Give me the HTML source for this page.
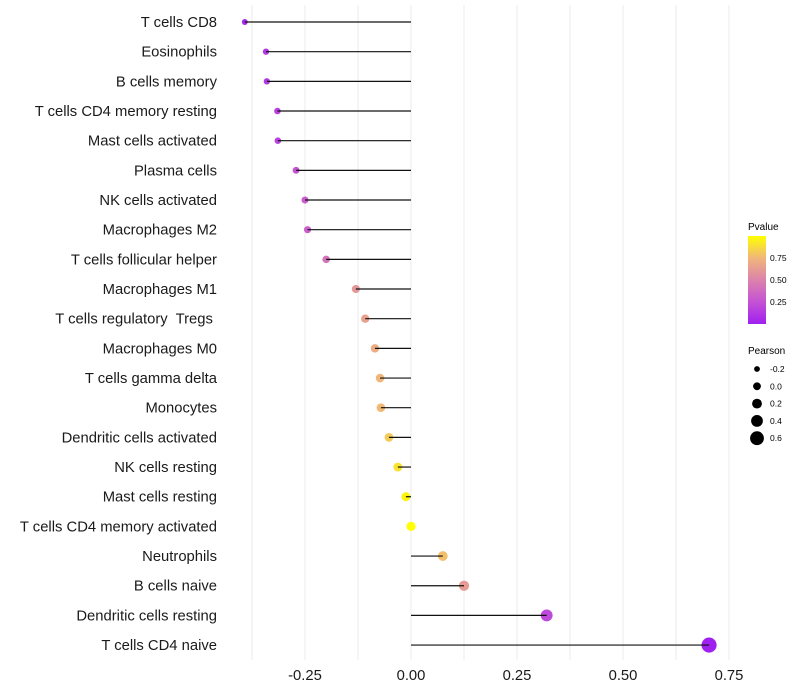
<!DOCTYPE html>
<html><head><meta charset="utf-8"><style>
body{margin:0;background:#fff;}
svg{display:block;font-family:"Liberation Sans",sans-serif;}
text{white-space:pre;}
</style></head><body>
<svg id="chart" width="800" height="700">
<defs><linearGradient id="pg" x1="0" y1="1" x2="0" y2="0">
<stop offset="0" stop-color="#a020f0"/><stop offset="0.25" stop-color="#c452d4"/><stop offset="0.5" stop-color="#dc82ac"/><stop offset="0.75" stop-color="#f0b67a"/><stop offset="1" stop-color="#ffff00"/>
</linearGradient></defs>
<g id="grid"></g><g id="points"></g><g id="marks"></g><g id="labels"></g><g id="xticks"></g>
<g>
<text x="748" y="230" font-size="10" fill="#000">Pvalue</text>
<rect x="748" y="236" width="18" height="88" fill="url(#pg)"/>
<text x="770" y="261" font-size="8.5">0.75</text>
<text x="770" y="283" font-size="8.5">0.50</text>
<text x="770" y="305" font-size="8.5">0.25</text>
</g>
<g id="sizeLegend">
<text x="748" y="354" font-size="10" fill="#000">Pearson</text>
</g>
</svg>
<script>
const categories=["T cells CD8","Eosinophils","B cells memory","T cells CD4 memory resting","Mast cells activated","Plasma cells","NK cells activated","Macrophages M2","T cells follicular helper","Macrophages M1","T cells regulatory  Tregs ","Macrophages M0","T cells gamma delta","Monocytes","Dendritic cells activated","NK cells resting","Mast cells resting","T cells CD4 memory activated","Neutrophils","B cells naive","Dendritic cells resting","T cells CD4 naive"];
const pearson=[-0.392,-0.342,-0.340,-0.315,-0.314,-0.271,-0.25,-0.244,-0.20,-0.13,-0.108,-0.085,-0.073,-0.071,-0.052,-0.031,-0.012,0.0,0.075,0.125,0.32,0.703];
const pvalue=[0.05,0.12,0.13,0.16,0.17,0.25,0.3,0.32,0.42,0.6,0.65,0.7,0.75,0.76,0.82,0.9,0.96,1.0,0.78,0.62,0.2,0.001];
const xTicks=[-0.25,0,0.25,0.5,0.75];
const xTickLabels=["-0.25","0.00","0.25","0.50","0.75"];
const sizeLegendVals=[-0.2,0,0.2,0.4,0.6];
const NS="http://www.w3.org/2000/svg";
const xS=v=>411+v*424;
const yS=i=>22+i*29.67;
const rS=v=>Math.max(1.6,4.6+4.2*v);
const rL=v=>3.9+5*v;
const stops=[[0,[160,32,240]],[0.25,[196,82,212]],[0.5,[220,130,172]],[0.75,[240,182,122]],[1,[255,255,0]]];
function col(p){for(let i=1;i<stops.length;i++){if(p<=stops[i][0]){const a=stops[i-1],b=stops[i],t=(p-a[0])/(b[0]-a[0]);return "rgb("+a[1].map((c,k)=>Math.round(c+(b[1][k]-c)*t)).join(",")+")";}}return "rgb(255,255,0)";}
function mk(t,at,parent){const e=document.createElementNS(NS,t);for(const k in at)e.setAttribute(k,at[k]);parent.appendChild(e);return e;}
const grid=document.getElementById('grid');
for(let v=-0.375;v<=0.76;v+=0.125){const g=mk('line',{x1:xS(v),x2:xS(v),y1:5,y2:660,stroke:'#ebebeb','stroke-width':1},grid);

}
const marks=document.getElementById('marks'),pts=document.getElementById('points'),labels=document.getElementById('labels');
categories.forEach((c,i)=>{const y=yS(i);
const p=mk('circle',{cx:xS(pearson[i]),cy:y,r:rS(pearson[i]),fill:col(pvalue[i])},pts);


const l=mk('line',{x1:xS(0),x2:xS(pearson[i]),y1:y,y2:y,stroke:'#111','stroke-width':1.2},marks);


const t=mk('text',{x:217,y:y+5,'text-anchor':'end','font-size':14.8,fill:'#1a1a1a'},labels);t.textContent=c;

});
const xt=document.getElementById('xticks');
xTicks.forEach((v,i)=>{const t=mk('text',{x:xS(v),y:680,'text-anchor':'middle','font-size':14.8,fill:'#1a1a1a'},xt);t.textContent=xTickLabels[i];

});
const sl=document.getElementById('sizeLegend');
sizeLegendVals.forEach((v,i)=>{const y=369+i*17.3;
const c=mk('circle',{cx:757,cy:y,r:rL(v),fill:'#000'},sl);


const t=mk('text',{x:770,y:y+3,'font-size':8.5},sl);t.textContent=v===0?"0.0":String(v);

});
</script>
</body></html>
